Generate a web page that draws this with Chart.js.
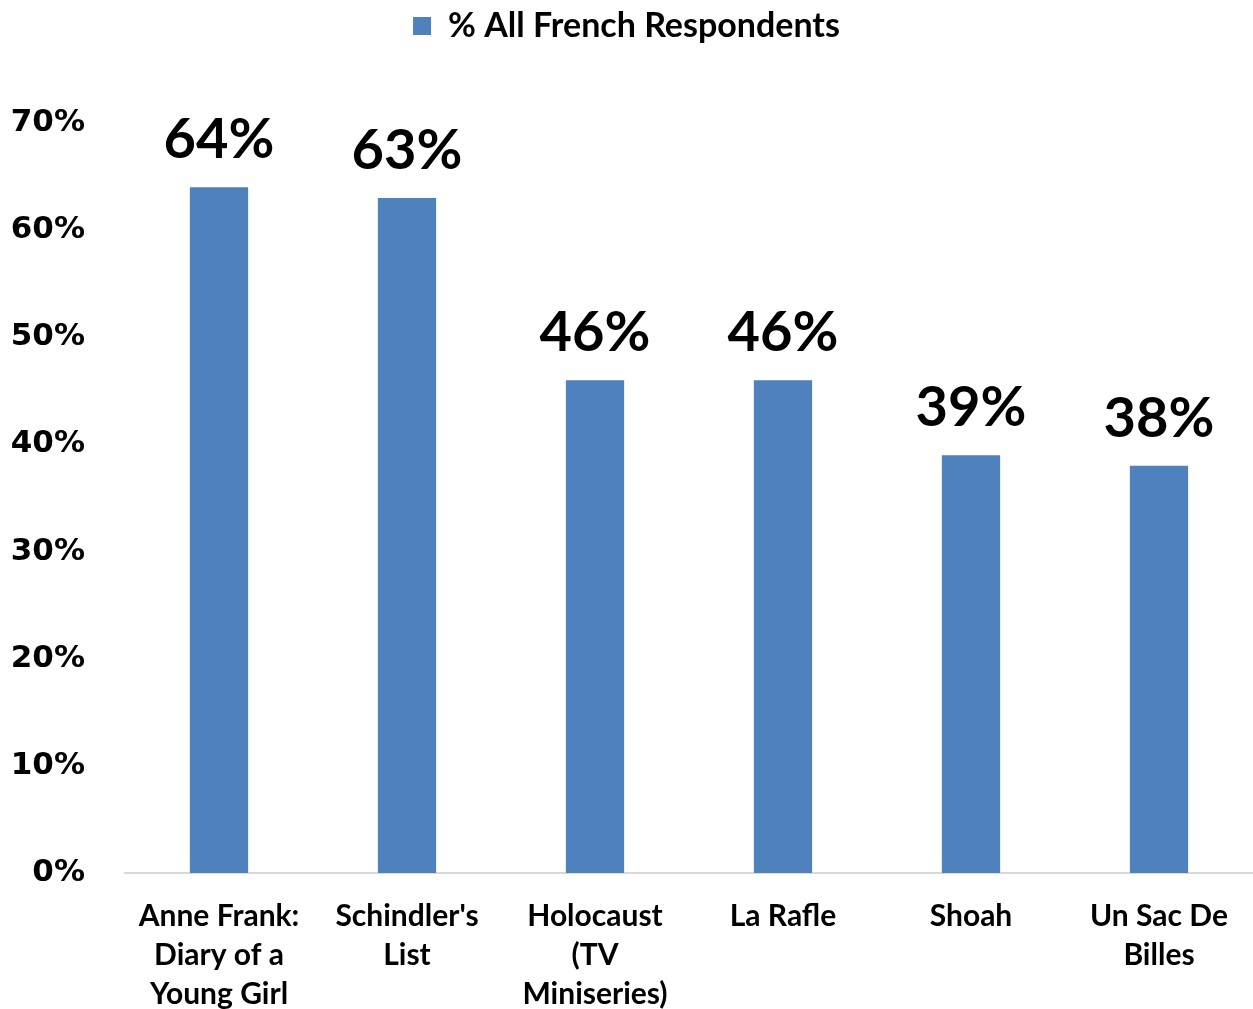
<!DOCTYPE html>
<html>
<head>
<meta charset="utf-8">
<script src="https://cdn.jsdelivr.net/npm/chart.js@4.4.1/dist/chart.umd.min.js"></script>
<style>
  html, body { margin: 0; padding: 0; background: #fff; }
  #wrap { width: 1253px; height: 1009px; }
</style>
</head>
<body>
<div id="wrap"><canvas id="chart" width="1253" height="1009"></canvas></div>
<script>
// Chart data
const categories = [
    ['Anne Frank:', 'Diary of a', 'Young Girl'],
    ["Schindler's", 'List'],
    ['Holocaust', '(TV', 'Miniseries)'],
    'La Rafle',
    'Shoah',
    ['Un Sac De', 'Billes']
];
const seriesName = '% All French Respondents';
const values = [64, 63, 46, 46, 39, 38];
const yTicks = [0, 10, 20, 30, 40, 50, 60, 70];

const labelFont = 'Lato, Calibri, sans-serif';

// Draw big value labels above the bars
const valueLabels = {
    id: 'valueLabels',
    afterDatasetsDraw(chart) {
        const ctx = chart.ctx;
        const meta = chart.getDatasetMeta(0);
        ctx.save();
        ctx.font = 'bold 56px ' + labelFont;
        ctx.fillStyle = '#000';
        ctx.textAlign = 'center';
        ctx.textBaseline = 'alphabetic';
        meta.data.forEach((bar, i) => {
            ctx.fillText(values[i] + '%', bar.x, bar.y - 29);
        });
        ctx.restore();
    }
};

// Leave extra room under the legend
const legendSpace = {
    id: 'legendSpace',
    beforeInit(chart) {
        const fit = chart.legend.fit;
        chart.legend.fit = function () {
            fit.call(this);
            this.height += 70;
        };
    }
};

const ctx = document.getElementById('chart').getContext('2d');
new Chart(ctx, {
    type: 'bar',
    data: {
        labels: categories,
        datasets: [{
            label: seriesName,
            data: values,
            backgroundColor: '#4F81BD',
            barPercentage: 0.31,
            categoryPercentage: 1.0
        }]
    },
    options: {
        responsive: false,
        animation: false,
        layout: { padding: { top: 3, left: 0, right: 0, bottom: 0 } },
        plugins: {
            tooltip: { enabled: false },
            legend: {
                position: 'top',
                labels: {
                    color: '#000',
                    font: { family: labelFont, size: 34, weight: 'bold' },
                    boxWidth: 18,
                    boxHeight: 18,
                    padding: 6
                }
            }
        },
        scales: {
            x: {
                grid: { display: false, drawTicks: false },
                border: { display: true, color: '#d9d9d9', width: 2 },
                ticks: {
                    color: '#000',
                    maxRotation: 0,
                    autoSkip: false,
                    padding: 24,
                    font: { family: labelFont, size: 30, weight: 'bold', lineHeight: 1.3 }
                },
                afterFit(scale) { scale.height = 136; }
            },
            y: {
                min: 0,
                max: 70,
                afterBuildTicks(scale) {
                    scale.ticks = yTicks.map(v => ({ value: v }));
                },
                grid: { display: false, drawTicks: false },
                border: { display: false },
                ticks: {
                    color: '#000',
                    padding: 40,
                    font: { family: 'DejaVu Sans', size: 31, weight: 'bold' },
                    callback: v => v + '%'
                },
                afterFit(scale) { scale.width = 125; }
            }
        }
    },
    plugins: [valueLabels, legendSpace]
});
</script>
</body>
</html>
